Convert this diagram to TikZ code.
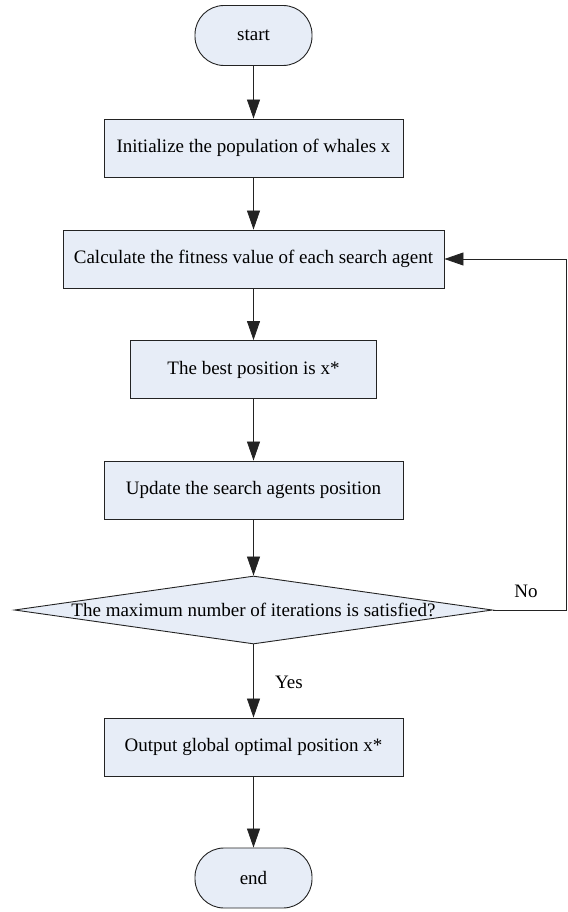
\documentclass[tikz,border=0pt]{standalone}
\usepackage{fontspec}
\setmainfont{Liberation Serif}
\usetikzlibrary{arrows.meta, positioning, shapes.geometric}
\definecolor{boxfill}{RGB}{231,237,247}
\definecolor{boxline}{RGB}{35,35,35}

\begin{document}
\begin{tikzpicture}[x=1pt, y=-1pt]
		\tikzstyle{Terminal} = [rectangle, rounded corners=29pt, minimum width=117pt, minimum height=60pt, text centered, draw=boxline, fill=boxfill, line width=0.9pt, font=\fontsize{19}{22}\selectfont]
		\tikzstyle{Process} = [rectangle, minimum height=58pt, text centered, draw=boxline, fill=boxfill, line width=0.9pt, font=\fontsize{19}{22}\selectfont]
		\tikzstyle{Decision} = [diamond, minimum width=478pt, minimum height=68pt, inner sep=0pt, draw=boxline, fill=boxfill, line width=0.9pt]
		\tikzstyle{Label} = [font=\fontsize{19}{22}\selectfont]
		\tikzstyle{arrow} = [line width=0.8pt, draw=boxline, -{Triangle[length=19pt, width=13pt]}]
		
		%\draw[step=50,gray,very thin] (0,0) grid (567,912);
		\useasboundingbox (0,0) rectangle (567,912);
		
		\node (start) [Terminal] at (253.5,35.5) {start};
		\node (init) [Process, minimum width=299pt] at (253.5,148) {Initialize the population of whales x};
		\node (calc) [Process, minimum width=381pt] at (253.5,259) {Calculate the fitness value of each search agent};
		\node (best) [Process, minimum width=246pt] at (253.5,369.5) {The best position is x*};
		\node (update) [Process, minimum width=299pt] at (253.5,490) {Update the search agents position};
		\node (check) [Decision, label={[Label]center:The maximum number of iterations is satisfied?}] at (253.5,610) {};
		\node (output) [Process, minimum width=299pt] at (253.5,747) {Output global optimal position x*};
		\node (stop) [Terminal] at (253.5,878) {end};
		
		\draw[arrow] (start) -- (init);
		\draw[arrow] (init) -- (calc);
		\draw[arrow] (calc) -- (best);
		\draw[arrow] (best) -- (update);
		\draw[arrow] (update) -- (check);
		\draw[arrow] (check) -- (output);
		\draw[arrow] (output) -- (stop);
		
		% loop back when not satisfied
		\coordinate (back) at (566,610);
		\draw[arrow] (check.east) -- (back) |- (calc.east);
		\node (no) [Label] at (526,591) {No};
		\node (yes) [Label] at (289,682) {Yes};
\end{tikzpicture}
\end{document}
